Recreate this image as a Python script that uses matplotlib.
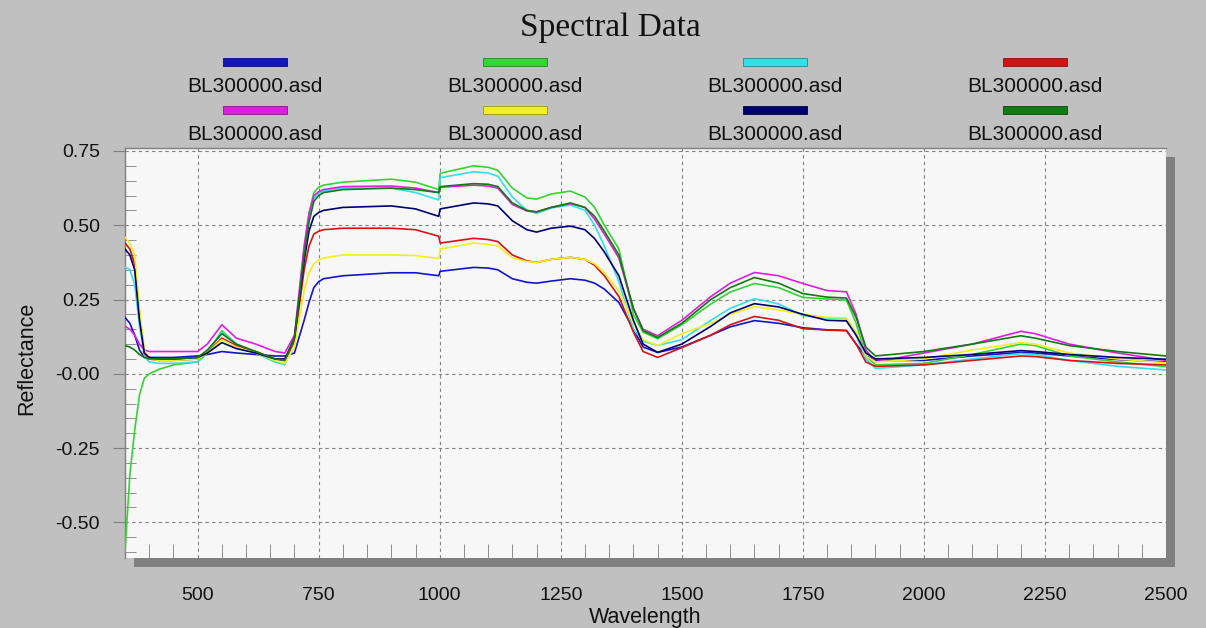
import matplotlib
matplotlib.use("Agg")
import matplotlib.pyplot as plt
from matplotlib.patches import Rectangle
from matplotlib.ticker import MultipleLocator, FixedLocator

wavelength = [350, 360, 370, 380, 390, 400, 420, 450, 500, 520, 550, 580,
              620, 660, 680, 700, 720, 730, 740, 750, 760, 800, 900, 950, 998, 1001,
              1070, 1100, 1120, 1150, 1180, 1200, 1230, 1270, 1300, 1320, 1340, 1370,
              1400, 1420, 1450, 1500, 1560, 1600, 1650, 1700, 1750, 1800, 1840, 1860,
              1880, 1900, 2000, 2100, 2200, 2230, 2300, 2400, 2500]

blue = [0.19, 0.17, 0.13, 0.08, 0.055, 0.055, 0.055, 0.055, 0.06, 0.065, 0.075, 0.07,
        0.065, 0.06, 0.06, 0.07, 0.18, 0.24, 0.29, 0.31, 0.32, 0.33, 0.34, 0.34, 0.33, 0.345,
        0.358, 0.356, 0.35, 0.32, 0.308, 0.305, 0.312, 0.32, 0.315, 0.305, 0.285, 0.24,
        0.15, 0.09, 0.072, 0.09, 0.13, 0.158, 0.179, 0.17, 0.155, 0.148, 0.146, 0.10,
        0.06, 0.045, 0.045, 0.06, 0.072, 0.07, 0.06, 0.048, 0.04]
green = [-0.60, -0.34, -0.19, -0.07, -0.015, 0.0, 0.015, 0.03, 0.04, 0.07, 0.145, 0.10,
         0.07, 0.04, 0.035, 0.12, 0.42, 0.54, 0.61, 0.628, 0.635, 0.645, 0.655, 0.645, 0.62, 0.675,
         0.70, 0.695, 0.685, 0.625, 0.592, 0.588, 0.605, 0.615, 0.595, 0.56, 0.50, 0.42,
         0.20, 0.14, 0.118, 0.165, 0.235, 0.275, 0.304, 0.29, 0.257, 0.252, 0.248, 0.17,
         0.06, 0.03, 0.035, 0.065, 0.10, 0.095, 0.06, 0.04, 0.024]
cyan = [0.36, 0.35, 0.30, 0.16, 0.06, 0.04, 0.035, 0.035, 0.04, 0.07, 0.14, 0.10,
        0.07, 0.04, 0.03, 0.12, 0.41, 0.52, 0.59, 0.608, 0.615, 0.625, 0.625, 0.61, 0.585, 0.66,
        0.68, 0.676, 0.665, 0.595, 0.55, 0.54, 0.558, 0.568, 0.55, 0.50, 0.43, 0.31,
        0.15, 0.11, 0.095, 0.115, 0.18, 0.22, 0.253, 0.235, 0.196, 0.188, 0.185, 0.13,
        0.05, 0.018, 0.03, 0.05, 0.068, 0.065, 0.045, 0.025, 0.013]
red = [0.44, 0.42, 0.37, 0.20, 0.07, 0.05, 0.045, 0.045, 0.05, 0.07, 0.12, 0.095,
       0.075, 0.05, 0.045, 0.11, 0.35, 0.43, 0.47, 0.48, 0.485, 0.49, 0.49, 0.485, 0.463, 0.44,
       0.456, 0.452, 0.445, 0.40, 0.38, 0.375, 0.385, 0.392, 0.385, 0.365, 0.33, 0.26,
       0.14, 0.075, 0.055, 0.088, 0.13, 0.165, 0.193, 0.18, 0.152, 0.147, 0.145, 0.10,
       0.04, 0.025, 0.03, 0.045, 0.06, 0.058, 0.045, 0.035, 0.03]
magenta = [0.16, 0.15, 0.13, 0.10, 0.08, 0.075, 0.075, 0.075, 0.075, 0.10, 0.165, 0.12,
           0.10, 0.075, 0.07, 0.13, 0.43, 0.54, 0.60, 0.613, 0.62, 0.63, 0.632, 0.625, 0.61, 0.628,
           0.635, 0.632, 0.625, 0.57, 0.548, 0.545, 0.56, 0.573, 0.56, 0.52, 0.47, 0.39,
           0.22, 0.15, 0.128, 0.18, 0.26, 0.305, 0.341, 0.33, 0.304, 0.28, 0.276, 0.20,
           0.08, 0.04, 0.07, 0.10, 0.143, 0.135, 0.10, 0.07, 0.045]
yellow = [0.46, 0.44, 0.40, 0.22, 0.08, 0.05, 0.045, 0.045, 0.05, 0.07, 0.115, 0.09,
          0.07, 0.045, 0.035, 0.09, 0.28, 0.34, 0.37, 0.383, 0.39, 0.40, 0.40, 0.398, 0.388, 0.42,
          0.44, 0.436, 0.43, 0.39, 0.378, 0.375, 0.385, 0.392, 0.385, 0.37, 0.34, 0.28,
          0.17, 0.115, 0.095, 0.135, 0.17, 0.20, 0.226, 0.215, 0.20, 0.19, 0.188, 0.14,
          0.06, 0.04, 0.05, 0.08, 0.105, 0.10, 0.07, 0.05, 0.037]
navy = [0.42, 0.40, 0.35, 0.18, 0.07, 0.055, 0.05, 0.05, 0.055, 0.07, 0.105, 0.085,
        0.07, 0.05, 0.05, 0.12, 0.38, 0.48, 0.53, 0.543, 0.55, 0.56, 0.565, 0.555, 0.53, 0.555,
        0.575, 0.572, 0.565, 0.515, 0.485, 0.477, 0.49, 0.497, 0.485, 0.455, 0.41, 0.33,
        0.18, 0.10, 0.072, 0.10, 0.16, 0.205, 0.236, 0.225, 0.20, 0.18, 0.178, 0.13,
        0.07, 0.05, 0.055, 0.065, 0.078, 0.075, 0.065, 0.055, 0.049]
darkgreen = [0.095, 0.09, 0.08, 0.065, 0.055, 0.05, 0.05, 0.05, 0.055, 0.08, 0.135, 0.10,
             0.075, 0.05, 0.045, 0.12, 0.40, 0.51, 0.58, 0.60, 0.61, 0.62, 0.625, 0.62, 0.61, 0.63,
             0.64, 0.638, 0.63, 0.575, 0.55, 0.545, 0.56, 0.575, 0.56, 0.53, 0.48, 0.40,
             0.22, 0.145, 0.122, 0.17, 0.25, 0.29, 0.324, 0.305, 0.27, 0.258, 0.255, 0.19,
             0.09, 0.06, 0.075, 0.10, 0.128, 0.12, 0.095, 0.075, 0.06]

series = [blue, green, cyan, red, magenta, yellow, navy, darkgreen]
series_colors = ["#1414c8", "#33d433", "#33e0e6", "#d41414", "#e01ee0", "#f0f020", "#000070", "#127a12"]
series_edges = ["#0a0a80", "#208a20", "#208a90", "#901010", "#901090", "#9a9a10", "#000040", "#0a4a0a"]
labels = ["BL300000.asd"] * 8

xticks = [500, 750, 1000, 1250, 1500, 1750, 2000, 2250, 2500]
yticks = [-0.50, -0.25, 0.00, 0.25, 0.50, 0.75]
ytick_labels = ["-0.50", "-0.25", "-0.00", "0.25", "0.50", "0.75"]

W, H = 1206, 628
fig = plt.figure(figsize=(W / 100, H / 100), dpi=100)
fig.patch.set_facecolor("#c0c0c0")
sans = ["Liberation Sans", "DejaVu Sans"]

L, R, T, B = 125, 1166, 148, 558
ax = fig.add_axes([L / W, 1 - B / H, (R - L) / W, (B - T) / H])
ax.set_facecolor("#f7f7f7")
ax.set_zorder(1)

# drop shadow (behind the axes)
sh = 9
fig.patches.append(Rectangle(((L + sh) / W, 1 - (B + sh) / H), (R - L) / W, (B - T) / H,
                             transform=fig.transFigure, facecolor="#808080",
                             edgecolor="none", zorder=-1))

for vals, c in zip(series, series_colors):
    ax.plot(wavelength, vals, color=c, lw=1.2, zorder=3)

ax.set_xlim(350, 2500)
ax.set_ylim(-0.62, 0.76)
ax.xaxis.set_major_locator(FixedLocator(xticks))
ax.xaxis.set_minor_locator(MultipleLocator(50))
ax.yaxis.set_major_locator(FixedLocator(yticks))
ax.set_yticklabels(ytick_labels)
ax.yaxis.set_minor_locator(MultipleLocator(0.05))
ax.grid(True, which="major", color="#808080", linestyle=(0, (3, 3)), lw=0.8)

for s in ["right", "bottom"]:
    ax.spines[s].set_visible(False)
for s in ["left", "top"]:
    ax.spines[s].set_color("#808080")
    ax.spines[s].set_linewidth(1.0)

ax.tick_params(axis="x", which="major", length=0, pad=21, labelsize=14, labelcolor="#111111")
ax.tick_params(axis="x", which="minor", direction="in", length=10, width=0.7, color="#909090")
ax.tick_params(axis="y", which="major", direction="out", length=9, width=0.8, color="#808080",
               pad=9, labelsize=14, labelcolor="#111111")
ax.tick_params(axis="y", which="minor", direction="in", length=8, width=0.7, color="#909090")
for lab in ax.get_xticklabels() + ax.get_yticklabels():
    lab.set_family(sans)

fig.text(645 / W, 1 - 617 / H, "Wavelength", ha="center", va="center", fontsize=15.5,
         family=sans, color="#111111")
fig.text(27 / W, 1 - 358 / H, "Reflectance", ha="center", va="center", rotation=90,
         fontsize=15.5, family=sans, color="#111111")
fig.text(610 / W, 1 - 28 / H, "Spectral Data", ha="center", va="center", fontsize=24,
         family=["Liberation Serif", "DejaVu Serif"], color="#111111")

# legend (swatch above label, 4 columns x 2 rows)
col_x = [255, 515, 775, 1035]
row_sw = [62, 110]
row_tx = [86, 134]
for i, (lab, c, ec) in enumerate(zip(labels, series_colors, series_edges)):
    r, k = divmod(i, 4)
    cx = col_x[k]
    fig.patches.append(Rectangle(((cx - 32) / W, 1 - (row_sw[r] + 3.5) / H), 64 / W, 7 / H,
                                 transform=fig.transFigure, facecolor=c, edgecolor=ec,
                                 lw=0.6, zorder=2))
    fig.text(cx / W, 1 - row_tx[r] / H, lab, ha="center", va="center", fontsize=15,
             family=sans, color="#111111")

fig.savefig("out.png", dpi=100, facecolor=fig.get_facecolor())
